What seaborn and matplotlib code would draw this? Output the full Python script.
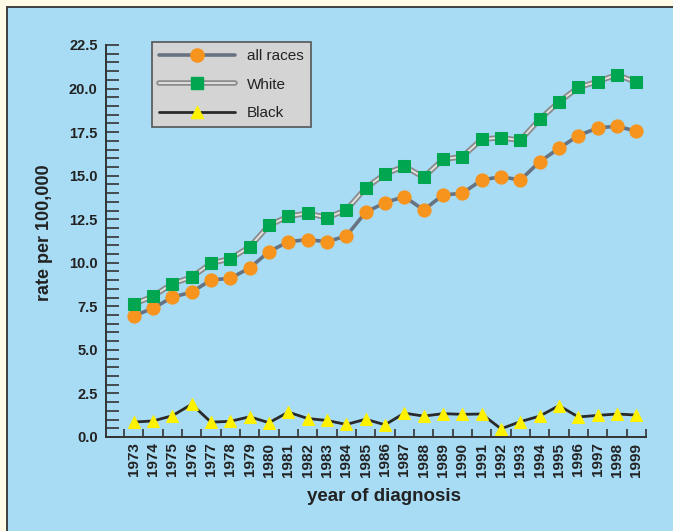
import numpy as np
import pandas as pd
import matplotlib
matplotlib.use('Agg')
import matplotlib.pyplot as plt
import seaborn as sns
from matplotlib.lines import Line2D
from matplotlib.patches import Rectangle
from matplotlib.legend_handler import HandlerTuple
from matplotlib.ticker import MultipleLocator, FixedLocator

years = [str(y) for y in range(1973, 2000)]
all_races = [6.95, 7.39, 8.02, 8.32, 9.01, 9.11, 9.70, 10.64, 11.21, 11.33,
             11.21, 11.54, 12.90, 13.45, 13.80, 13.03, 13.89, 13.99, 14.75, 14.94,
             14.75, 15.80, 16.57, 17.30, 17.74, 17.84, 17.55]
white = [7.63, 8.08, 8.80, 9.18, 9.97, 10.24, 10.91, 12.15, 12.67, 12.84,
         12.59, 13.03, 14.29, 15.10, 15.54, 14.91, 15.94, 16.09, 17.09, 17.18,
         17.03, 18.24, 19.23, 20.07, 20.40, 20.80, 20.36]
black = [0.86, 0.92, 1.22, 1.88, 0.85, 0.90, 1.16, 0.82, 1.43, 1.06,
         0.95, 0.72, 1.02, 0.70, 1.37, 1.20, 1.34, 1.30, 1.32, 0.47,
         0.88, 1.20, 1.80, 1.15, 1.24, 1.32, 1.26]

df = pd.DataFrame({'year': years, 'all races': all_races, 'White': white, 'Black': black})

BLUE_BG = '#a8dcf5'
CREAM = '#fffbe6'
DARK = '#2a2a2a'
ORANGE = '#f7941d'
GREEN = '#00a650'
YELLOW = '#fff200'
GREY_LINE = '#687382'

sns.set_theme(style='white')
plt.rcParams['font.family'] = ['Liberation Sans', 'DejaVu Sans']

fig = plt.figure(figsize=(6.73, 5.31), dpi=100, facecolor=CREAM)
bg = Rectangle((7 / 673, -0.1), 1.2, 1.1 - 7 / 531, transform=fig.transFigure,
               facecolor=BLUE_BG, edgecolor='#333333', linewidth=1.3, zorder=-5)
fig.add_artist(bg)
ax = fig.add_axes([106 / 673, 1 - 437 / 531, 540 / 673, 392 / 531])
ax.set_facecolor('none')

# all races
sns.lineplot(data=df, x='year', y='all races', ax=ax, color=GREY_LINE, linewidth=2.6,
             marker='o', markersize=9.5, markerfacecolor=ORANGE, markeredgecolor=ORANGE,
             zorder=3)
# White: double line
sns.lineplot(data=df, x='year', y='White', ax=ax, color='#8c8c8c', linewidth=4, zorder=3)
sns.lineplot(data=df, x='year', y='White', ax=ax, color='#e4e4e4', linewidth=1.3, zorder=3)
sns.lineplot(data=df, x='year', y='White', ax=ax, linestyle='none', marker='s', markersize=8,
             markerfacecolor=GREEN, markeredgecolor=GREEN, zorder=4)
# Black
sns.lineplot(data=df, x='year', y='Black', ax=ax, color=DARK, linewidth=2,
             marker='^', markersize=8.5, markerfacecolor=YELLOW, markeredgecolor=YELLOW,
             zorder=3)

ax.set_xlim(-0.5 - 18 / 19.33, 26.5)
ax.set_ylim(0, 22.5)

for s in ['top', 'right']:
    ax.spines[s].set_visible(False)
for s in ['left', 'bottom']:
    ax.spines[s].set_color('#333333')
    ax.spines[s].set_linewidth(1.4)

ax.set_yticks(np.arange(0, 22.51, 2.5))
ax.set_yticklabels([f'{v:.1f}' for v in np.arange(0, 22.51, 2.5)])
ax.yaxis.set_minor_locator(MultipleLocator(0.5))
ax.tick_params(axis='y', which='both', direction='in', length=9, width=1.2,
               color='#333333', pad=6, labelsize=10.5, labelcolor='#222222', left=True)

ax.set_xticks(range(len(years)))
ax.set_xticklabels(years, rotation=90)
ax.xaxis.set_minor_locator(FixedLocator(np.arange(-0.5, 26.6, 1)))
ax.tick_params(axis='x', which='major', length=0, pad=4, labelsize=11, labelcolor='#222222')
ax.tick_params(axis='x', which='minor', direction='in', length=6, width=1.2, color='#333333',
               bottom=True)
for lab in ax.get_xticklabels() + ax.get_yticklabels():
    lab.set_fontweight('bold')

ax.set_xlabel('year of diagnosis', fontsize=13.5, fontweight='bold', color='#222222')
ax.set_ylabel('rate per 100,000', fontsize=13, fontweight='bold', color='#222222')
ax.xaxis.set_label_coords(0.515, -0.13)
ax.yaxis.set_label_coords(-0.098, 0.52)

h_all = Line2D([], [], color=GREY_LINE, linewidth=2.6, marker='o', markersize=9.5,
               markerfacecolor=ORANGE, markeredgecolor=ORANGE)
h_w1 = Line2D([], [], color='#8c8c8c', linewidth=4)
h_w2 = Line2D([], [], color='#e4e4e4', linewidth=1.3)
h_w3 = Line2D([], [], linestyle='none', marker='s', markersize=8,
              markerfacecolor=GREEN, markeredgecolor=GREEN)
h_b = Line2D([], [], color=DARK, linewidth=2, marker='^', markersize=8.5,
             markerfacecolor=YELLOW, markeredgecolor=YELLOW)
leg = ax.legend([h_all, (h_w1, h_w2, h_w3), h_b], ['all races', 'White', 'Black'],
                handler_map={tuple: HandlerTuple(ndivide=1, pad=0)},
                loc='upper left', bbox_to_anchor=(0.085, 1.008), fontsize=11,
                handlelength=5.0, handletextpad=0.75, labelspacing=0.95, borderpad=0.47,
                borderaxespad=0, fancybox=False, framealpha=1, facecolor='#d4d4d4',
                edgecolor='#555555')
leg.get_frame().set_linewidth(1.2)
for t in leg.get_texts():
    t.set_color('#222222')

fig.savefig('out.png', dpi=100, facecolor=CREAM)
